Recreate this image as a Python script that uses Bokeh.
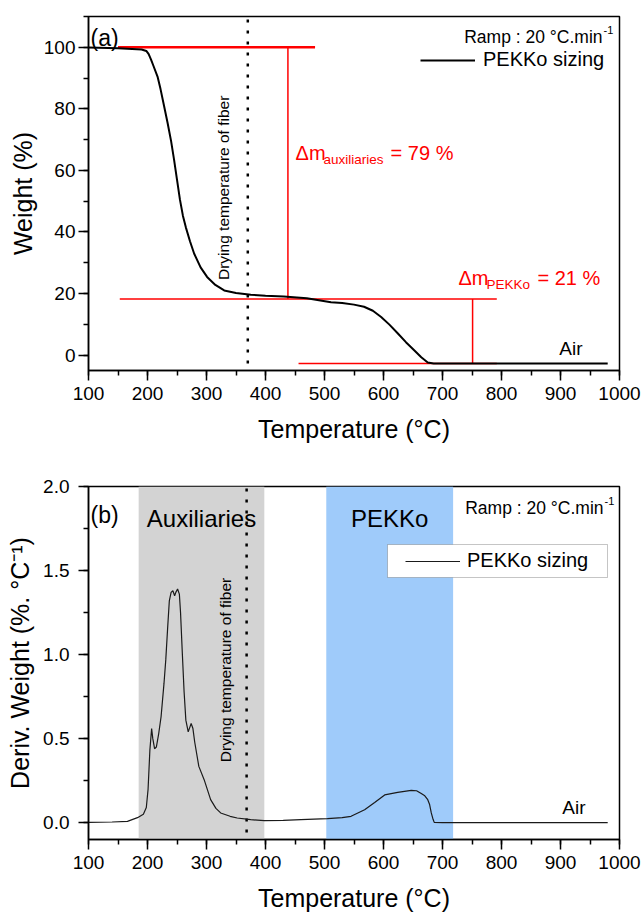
import math
from bokeh.plotting import figure
from bokeh.models import (Range1d, SingleIntervalTicker, Label, BoxAnnotation,
                          Legend, LegendItem, NumeralTickFormatter)
from bokeh.layouts import column
from bokeh.embed import file_html
from bokeh.resources import INLINE

FONT = "Liberation Sans"

# ---------------- data ----------------
# (a) TGA weight curve
temp_tga = [100, 150, 190, 198, 202, 206, 210, 217, 222, 228, 234, 240, 245, 250, 255,
            260, 265, 272, 279, 290, 301, 315, 330, 350, 375, 400, 431, 470, 511, 530, 550,
            567, 582, 596, 610, 624, 638, 652, 664, 675, 685, 750, 850, 980]
weight = [99.9, 99.7, 99.3, 98.8, 97.8, 96.0, 94.0, 90.5, 86.5, 81.0, 75.5, 69.5, 63.5,
          57.0, 50.5, 45.3, 41.5, 37.0, 33.0, 28.5, 25.4, 22.8, 21.0, 20.2, 19.6, 19.3,
          19.0, 18.5, 17.2, 16.9, 16.4, 15.7, 14.4, 12.4, 9.9, 7.1, 4.2, 1.6, -0.7, -2.4,
          -2.7, -2.7, -2.7, -2.7]

# (b) DTG derivative curve
temp_dtg = [100, 140, 166, 183, 193, 198, 201, 204, 207, 209, 212, 215, 219, 223, 228, 231,
            234, 237, 240, 243, 246, 248, 251, 254, 256, 259, 262, 265, 269, 272, 274, 277,
            280, 287, 296, 307, 316, 324, 340, 352, 375, 398, 430, 460, 505, 530, 545, 568,
            585, 602, 624, 647, 656, 664, 670, 675, 678, 681, 684, 686, 700, 750, 800, 850,
            900, 950, 980]
deriv = [0.002, 0.004, 0.008, 0.03, 0.05, 0.09, 0.2, 0.43, 0.56, 0.5, 0.44, 0.45, 0.53, 0.63,
         0.83, 0.97, 1.15, 1.32, 1.37, 1.38, 1.35, 1.37, 1.39, 1.36, 1.25, 1.01, 0.78, 0.61,
         0.54, 0.57, 0.59, 0.56, 0.48, 0.335, 0.256, 0.137, 0.085, 0.058, 0.038, 0.028,
         0.018, 0.012, 0.014, 0.018, 0.024, 0.03, 0.038, 0.077, 0.12, 0.165, 0.18, 0.192,
         0.19, 0.173, 0.16, 0.137, 0.11, 0.058, 0.02, 0.002, 0.0, 0.0, 0.0, 0.0, 0.0, 0.0, 0.0]

drying_temp = [370, 368]                 # dotted line, (a) and (b)
mass_levels = [100.0, 18.2, -2.7]        # start, after auxiliaries, residue
level_start = [150, 153, 456]
level_end = [484, 792, 792]
drop_x = [438, 751]                      # vertical markers of the two mass losses
drop_labels = ["auxiliaries", "PEKKo"]
drop_values = ["79 %", "21 %"]
bands = [(185, 398), (503, 718)]
band_labels = ["Auxiliaries", "PEKKo"]
band_colors = ["#d3d3d3", "#9fcbfa"]

x_ticks_interval = 100


def style(p, ylabel, yinterval):
    p.xgrid.visible = False
    p.ygrid.visible = False
    p.outline_line_color = "black"
    p.outline_line_width = 1.5
    p.outline_line_alpha = 1
    p.xaxis.ticker = SingleIntervalTicker(interval=x_ticks_interval, num_minor_ticks=2)
    p.yaxis.ticker = SingleIntervalTicker(interval=yinterval, num_minor_ticks=2)
    p.xaxis.axis_label = "Temperature (°C)"
    p.yaxis.axis_label = ylabel
    for ax in (p.xaxis[0], p.yaxis[0]):
        ax.axis_line_width = 1.5
        ax.axis_line_color = "black"
        ax.major_tick_line_width = 1.5
        ax.minor_tick_line_width = 1.5
        ax.major_tick_line_color = "black"
        ax.minor_tick_line_color = "black"
        ax.major_tick_in = 0
        ax.major_tick_out = 10
        ax.minor_tick_in = 0
        ax.minor_tick_out = 5
        ax.major_label_text_font = FONT
        ax.major_label_text_font_size = "19px"
        ax.major_label_text_color = "black"
        ax.axis_label_text_font = FONT
        ax.axis_label_text_font_size = "25px"
        ax.axis_label_text_font_style = "normal"
        ax.axis_label_text_color = "black"
    p.xaxis.major_label_standoff = 6
    p.xaxis.axis_label_standoff = 12


def txt(p, x, y, text, size, color="black", align="left", baseline="alphabetic",
        units="data", angle=0.0, xo=0, yo=0):
    p.add_layout(Label(x=x, y=y, x_units=units, y_units=units, text=text,
                       text_font=FONT, text_font_size=size, text_color=color,
                       text_align=align, text_baseline=baseline, angle=angle,
                       x_offset=xo, y_offset=yo))


# ---------------- (a) ----------------
p1 = figure(width=643, height=448, x_range=Range1d(100, 1000), y_range=Range1d(-5, 110),
            output_backend="svg", toolbar_location=None,
            min_border_left=88, min_border_right=24, min_border_top=16, min_border_bottom=78)
style(p1, "Weight (%)", 20)
p1.yaxis.major_label_standoff = 3
p1.yaxis.axis_label_standoff = 4

# dotted drying line
p1.line([drying_temp[0], drying_temp[0]], [mass_levels[2], 110],
        line_color="black", line_width=2.5, line_dash="3 8")

# red construction lines
p1.segment(x0=level_start, y0=mass_levels, x1=level_end, y1=mass_levels,
           line_color="red", line_width=[2.5, 1.5, 1.5])
p1.segment(x0=drop_x, y0=mass_levels[:2], x1=drop_x, y1=mass_levels[1:],
           line_color="red", line_width=1.5)

r1 = p1.line(temp_tga, weight, line_color="black", line_width=2)

leg1 = Legend(items=[LegendItem(label="PEKKo sizing", renderers=[r1])],
              location=(327, 294), padding=5, margin=0, glyph_width=55, glyph_height=20,
              label_standoff=8, label_text_font=FONT, label_text_font_size="20px",
              label_text_color="black",
              border_line_alpha=0, background_fill_alpha=0)
p1.add_layout(leg1)

txt(p1, 2, 333, "(a)", "23px", units="screen")
txt(p1, 514, 334, "Ramp : 20 °C.min", "17.5px", align="right", units="screen")
txt(p1, 515, 341, "-1", "11px", units="screen")
txt(p1, 329, 24.4, "Drying temperature of fiber", "15.5px", baseline="middle",
    angle=math.pi / 2)
txt(p1, 898, 2.2, "Air", "19px")
# mass-loss annotations
for (xa, ya), lab, val in zip([(451, 65.5), (727, 24.9)], drop_labels, drop_values):
    txt(p1, xa, ya, "Δm", "20px", color="red")
    txt(p1, xa, ya, lab, "13.5px", color="red", xo=28, yo=-6)
    sub_w = 60 if lab == "auxiliaries" else 44
    txt(p1, xa, ya, "= " + val, "20px", color="red", xo=28 + sub_w + 7)

# ---------------- (b) ----------------
p2 = figure(width=643, height=468, x_range=Range1d(100, 1000), y_range=Range1d(-0.1, 2.0),
            output_backend="svg", toolbar_location=None,
            min_border_left=88, min_border_right=24, min_border_top=38, min_border_bottom=77)
style(p2, "Deriv. Weight (%. °C⁻¹)", 0.5)
p2.yaxis.formatter = NumeralTickFormatter(format="0.0")
p2.yaxis.major_label_standoff = 9
p2.yaxis.axis_label_standoff = 6

for (lo, hi), col in zip(bands, band_colors):
    p2.add_layout(BoxAnnotation(left=lo, right=hi, fill_color=col, fill_alpha=1,
                                line_alpha=0, level="underlay"))

p2.line([drying_temp[1], drying_temp[1]], [-0.058, 2.0],
        line_color="black", line_width=2.5, line_dash="3 8")

r2 = p2.line(temp_dtg, deriv, line_color="#1a1a1a", line_width=1.2)

p2.add_layout(BoxAnnotation(left=299, right=519, top=295, bottom=262,
                            left_units="screen", right_units="screen",
                            top_units="screen", bottom_units="screen",
                            fill_color="white", fill_alpha=1,
                            line_color="#404040", line_width=1))
leg2 = Legend(items=[LegendItem(label="PEKKo sizing", renderers=[r2])],
              location=(312, 262), padding=5, margin=0, glyph_width=55, glyph_height=20,
              label_standoff=7, label_text_font=FONT, label_text_font_size="20px",
              label_text_color="black",
              border_line_alpha=0, background_fill_alpha=0)
p2.add_layout(leg2)

for (lo, hi), lab in zip(bands, band_labels):
    txt(p2, (lo + hi) / 2, 1.81, lab, "24px", align="center")
txt(p2, 2, 325, "(b)", "23px", units="screen")
txt(p2, 515, 332, "Ramp : 20 °C.min", "17.5px", align="right", units="screen")
txt(p2, 516, 339, "-1", "11px", units="screen")
txt(p2, 333, 0.36, "Drying temperature of fiber", "15.5px", baseline="middle",
    angle=math.pi / 2)
txt(p2, 903, 0.092, "Air", "19px")

layout = column(p1, p2, spacing=0)
open("out.html", "w").write(file_html(layout, INLINE))
